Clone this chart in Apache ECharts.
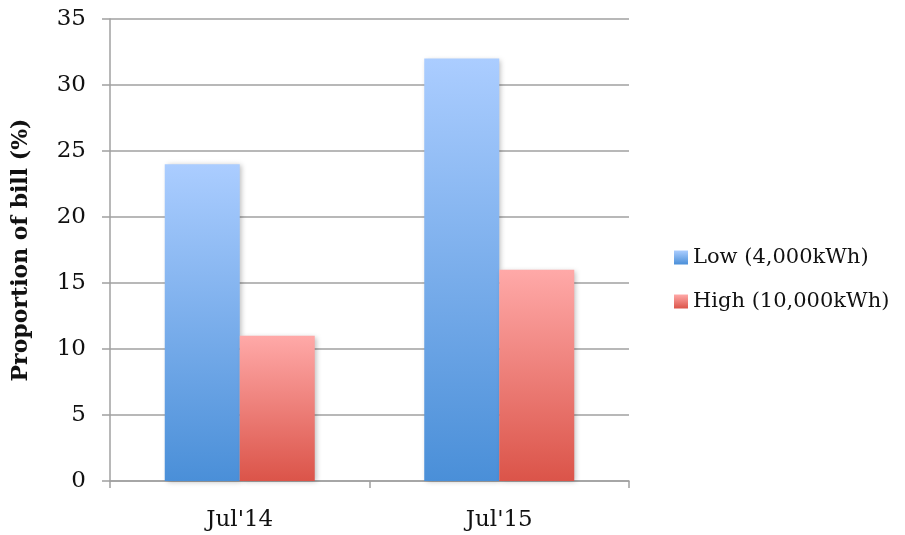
<!DOCTYPE html>
<html>
<head>
<meta charset="utf-8">
<script src="https://cdn.jsdelivr.net/npm/echarts@6/dist/echarts.min.js"></script>
<style>
  html, body { margin: 0; padding: 0; background: #fff; }
  #chart { width: 905px; height: 535px; }
</style>
</head>
<body>
<div id="chart"></div>
<script>
// Share of the electricity bill, by consumption level
const categories = ["Jul'14", "Jul'15"];
const lowValues = [24, 32];
const highValues = [11, 16];
const seriesNames = ['Low (4,000kWh)', 'High (10,000kWh)'];
const yTicks = { min: 0, max: 35, step: 5 };

const FONT = 'DejaVu Serif';
const axisGrey = '#a0a0a0';

function vGrad(top, bottom) {
  return new echarts.graphic.LinearGradient(0, 0, 0, 1, [
    { offset: 0, color: top },
    { offset: 1, color: bottom }
  ]);
}

const chart = echarts.init(document.getElementById('chart'), null, { renderer: 'canvas' });

chart.setOption({
  animation: false,
  backgroundColor: '#ffffff',
  textStyle: { fontFamily: FONT },
  grid: { left: 110, right: 276, top: 19, bottom: 54 },
  legend: {
    orient: 'vertical',
    left: 669,
    top: 242,
    itemWidth: 14,
    itemHeight: 14,
    itemGap: 23,
    icon: 'rect',
    textStyle: { fontFamily: FONT, fontSize: 21, color: '#111' },
    data: seriesNames
  },
  xAxis: {
    type: 'category',
    data: categories,
    boundaryGap: true,
    axisLine: { show: true, lineStyle: { color: axisGrey, width: 1.5 } },
    axisTick: { show: true, length: 7, alignWithLabel: false, lineStyle: { color: axisGrey, width: 1.5 } },
    axisLabel: { fontFamily: FONT, fontSize: 23, color: '#111', margin: 28 }
  },
  yAxis: {
    type: 'value',
    min: yTicks.min,
    max: yTicks.max,
    interval: yTicks.step,
    name: 'Proportion of bill (%)',
    nameLocation: 'middle',
    nameGap: 78,
    nameTextStyle: { fontFamily: FONT, fontSize: 22, fontWeight: 'bold', color: '#111' },
    axisLine: { show: true, lineStyle: { color: axisGrey, width: 1.5 } },
    axisTick: { show: true, length: 8, lineStyle: { color: axisGrey, width: 1.5 } },
    splitLine: { show: true, lineStyle: { color: axisGrey, width: 1.5 } },
    axisLabel: { fontFamily: FONT, fontSize: 23, color: '#111', margin: 24 }
  },
  series: [
    {
      name: seriesNames[0],
      type: 'bar',
      data: lowValues,
      barWidth: 75,
      barGap: '0%',
      itemStyle: {
        color: vGrad('#abcdff', '#4a8fd8'),
        shadowColor: 'rgba(0,0,0,0.25)',
        shadowBlur: 5,
        shadowOffsetX: 2,
        shadowOffsetY: 1
      }
    },
    {
      name: seriesNames[1],
      type: 'bar',
      data: highValues,
      barWidth: 75,
      barGap: '0%',
      itemStyle: {
        color: vGrad('#ffa9a8', '#db5449'),
        shadowColor: 'rgba(0,0,0,0.25)',
        shadowBlur: 5,
        shadowOffsetX: 2,
        shadowOffsetY: 1
      }
    }
  ]
});
</script>
</body>
</html>
